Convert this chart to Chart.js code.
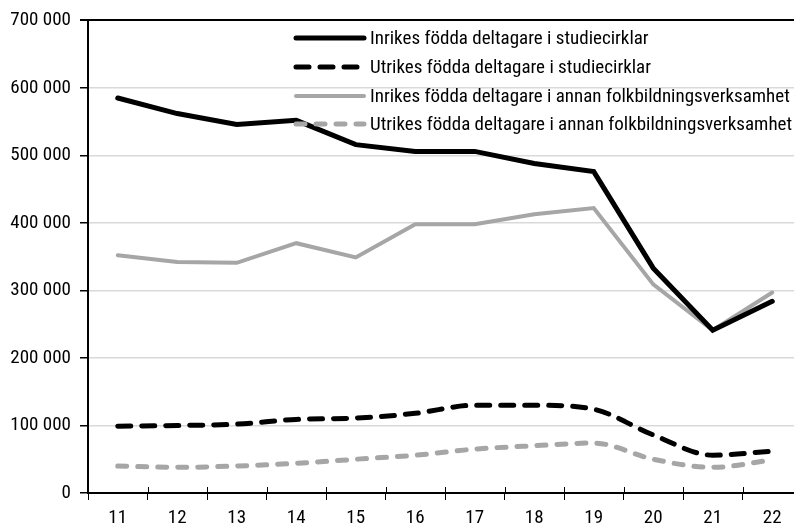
<!DOCTYPE html>
<html>
<head>
<meta charset="utf-8">
<script src="https://cdn.jsdelivr.net/npm/chart.js@4.4.1/dist/chart.umd.min.js"></script>
<style>
  html, body { margin: 0; padding: 0; background: #fff; overflow: hidden; }
  #wrap { width: 802px; height: 528px; }
</style>
</head>
<body>
<div id="wrap"><canvas id="chart"></canvas></div>
<script>
// år (20xx)
const years = ["11", "12", "13", "14", "15", "16", "17", "18", "19", "20", "21", "22"];

const inrikesStudie = [585000, 562000, 546000, 552000, 516000, 506000, 506000, 488000, 476000, 333000, 241000, 284000];
const utrikesStudie = [99000, 100000, 102000, 109000, 111000, 118000, 130000, 130000, 124000, 86000, 56000, 62000];
const inrikesAnnan = [352000, 342000, 341000, 370000, 349000, 398000, 398000, 413000, 422000, 309000, 241000, 297000];
const utrikesAnnan = [40000, 38000, 40000, 44000, 50000, 56000, 65000, 70000, 74000, 50000, 38000, 49000];

const seriesLabels = [
  "Inrikes födda deltagare i studiecirklar",
  "Utrikes födda deltagare i studiecirklar",
  "Inrikes födda deltagare i annan folkbildningsverksamhet",
  "Utrikes födda deltagare i annan folkbildningsverksamhet"
];

const yTicks = [0, 100000, 200000, 300000, 400000, 500000, 600000, 700000];

const FONT = "'Roboto Condensed', Roboto, sans-serif";
const FONT_SIZE = 19;
const GRAY = "#a6a6a6";

// legend drawn inside the plot, one item per row
const legendPlugin = {
  id: "insideLegend",
  afterDatasetsDraw(chart) {
    const ctx = chart.ctx;
    const x0 = 296, x1 = 364, tx = 370;
    const rows = [38, 67, 96, 124];
    ctx.save();
    chart.data.datasets.forEach((ds, i) => {
      const y = rows[i];
      ctx.beginPath();
      ctx.strokeStyle = ds.borderColor;
      ctx.lineWidth = ds.borderWidth;
      ctx.lineCap = ds.borderCapStyle || "butt";
      ctx.setLineDash(ds.borderDash || []);
      ctx.moveTo(x0, y);
      ctx.lineTo(x1, y);
      ctx.stroke();
      ctx.setLineDash([]);
      ctx.fillStyle = "#000";
      ctx.font = FONT_SIZE + "px " + FONT;
      ctx.textBaseline = "middle";
      ctx.textAlign = "left";
      ctx.fillText(ds.label, tx, y + 1);
    });
    ctx.restore();
  },
  afterDraw(chart) {
    // small tick marks above the x axis, between categories
    const xs = chart.scales.x;
    const bottom = chart.chartArea.bottom;
    const ctx = chart.ctx;
    ctx.save();
    ctx.strokeStyle = "#000";
    ctx.lineWidth = 1;
    for (let i = 1; i < years.length; i++) {
      const px = Math.round((xs.getPixelForValue(i - 1) + xs.getPixelForValue(i)) / 2) + 0.5;
      ctx.beginPath();
      ctx.moveTo(px, bottom - 6);
      ctx.lineTo(px, bottom);
      ctx.stroke();
    }
    ctx.restore();
  }
};

new Chart(document.getElementById("chart"), {
  type: "line",
  data: {
    labels: years,
    datasets: [
      {
        label: seriesLabels[0],
        data: inrikesStudie,
        borderColor: "#000",
        borderWidth: 5,
        borderCapStyle: "round",
        tension: 0,
        pointRadius: 0
      },
      {
        label: seriesLabels[1],
        data: utrikesStudie,
        borderColor: "#000",
        borderWidth: 5,
        borderDash: [13, 11],
        borderCapStyle: "round",
        cubicInterpolationMode: "monotone",
        pointRadius: 0
      },
      {
        label: seriesLabels[2],
        data: inrikesAnnan,
        borderColor: GRAY,
        borderWidth: 4,
        borderCapStyle: "round",
        tension: 0,
        pointRadius: 0
      },
      {
        label: seriesLabels[3],
        data: utrikesAnnan,
        borderColor: GRAY,
        borderWidth: 5,
        borderDash: [9, 11],
        borderCapStyle: "round",
        cubicInterpolationMode: "monotone",
        pointRadius: 0
      }
    ]
  },
  options: {
    responsive: true,
    maintainAspectRatio: false,
    animation: false,
    layout: { padding: { top: 20, right: 0, left: 0, bottom: 0 } },
    plugins: {
      legend: { display: false },
      tooltip: { enabled: false }
    },
    scales: {
      x: {
        offset: true,
        grid: {
          offset: true,
          drawOnChartArea: false,
          color: "#000",
          tickLength: 7
        },
        border: { color: "#000", width: 2 },
        ticks: {
          color: "#000",
          font: { family: FONT, size: FONT_SIZE },
          padding: 7,
          maxRotation: 0
        },
        afterFit(scale) { scale.height = 35; }
      },
      y: {
        min: 0,
        max: 700000,
        afterBuildTicks(scale) {
          scale.ticks = yTicks.map(v => ({ value: v }));
        },
        grid: {
          color: ctx => (ctx.tick && ctx.tick.value === 700000 ? "#000" : "#d9d9d9"),
          lineWidth: ctx => (ctx.tick && ctx.tick.value === 700000 ? 2 : 1.5),
          tickColor: "#000",
          tickLength: 8
        },
        border: { color: "#000", width: 2 },
        ticks: {
          color: "#000",
          font: { family: FONT, size: FONT_SIZE },
          padding: 9,
          callback: v => String(v).replace(/\B(?=(\d{3})+(?!\d))/g, " ")
        },
        afterFit(scale) { scale.width = 88; }
      }
    }
  },
  plugins: [legendPlugin]
});
</script>
</body>
</html>
